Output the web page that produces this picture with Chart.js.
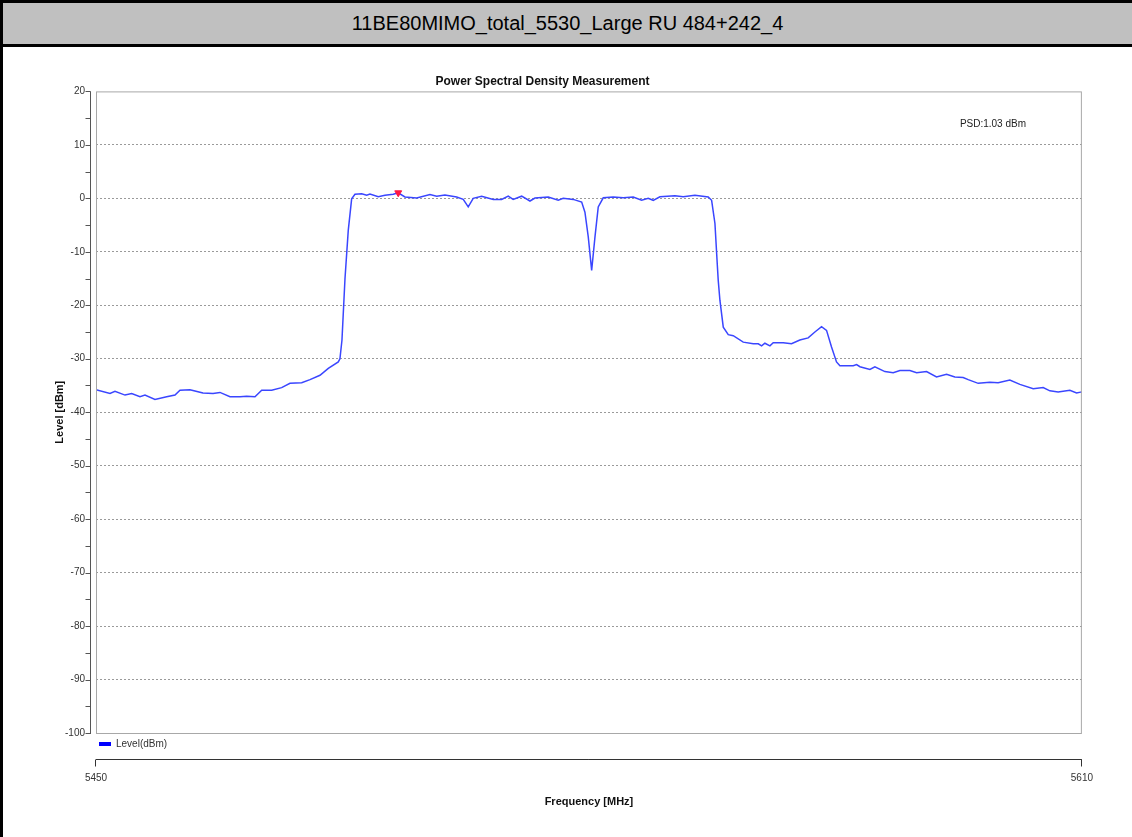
<!DOCTYPE html>
<html>
<head>
<meta charset="utf-8">
<script src="https://cdn.jsdelivr.net/npm/chart.js@4/dist/chart.umd.min.js"></script>
<style>
  body { margin: 0; background: #fff; }
  #page { width: 1129px; height: 834px; border-left: 3px solid #000; border-top: 3px solid #000; }
  #header {
    height: 41px; background: #c0c0c0; border-bottom: 3px solid #000;
    text-align: center; font: 20px "Liberation Sans", Arial, sans-serif; line-height: 41px; color: #000;
  }
  canvas { display: block; }
</style>
</head>
<body>
<div id="page">
  <div id="header">11BE80MIMO_total_5530_Large RU 484+242_4</div>
  <canvas id="psd" width="1129" height="790"></canvas>
</div>
<script>
const family = "'Liberation Sans Narrow', 'Liberation Sans', Arial, sans-serif";
const narrow = (size, bold) => ({ family, size, weight: bold ? "bold" : "normal" });

// trace (MHz / dBm)
const freqMHz = [
  5450.0, 5452.27, 5453.08, 5454.71, 5455.79, 5457.14, 5457.95, 5459.57, 5461.47, 5462.82,
  5463.63, 5465.25, 5467.36, 5468.99, 5470.12, 5471.74, 5473.37, 5474.45, 5475.80, 5476.89,
  5478.51, 5480.13, 5481.48, 5483.38, 5484.73, 5486.35, 5487.70, 5489.32, 5489.59, 5489.92,
  5490.41, 5490.94, 5491.49, 5492.03, 5493.12, 5493.93, 5494.46, 5495.81, 5496.90, 5498.24,
  5499.05, 5500.14, 5502.04, 5504.20, 5505.29, 5506.63, 5508.53, 5509.60, 5510.41, 5511.22,
  5512.59, 5514.47, 5515.83, 5516.90, 5517.70, 5519.08, 5520.43, 5521.24, 5523.40, 5525.02,
  5525.83, 5527.45, 5528.82, 5529.35, 5529.89, 5530.44, 5530.98, 5531.51, 5532.32, 5533.94,
  5535.57, 5537.19, 5538.55, 5539.62, 5540.43, 5541.52, 5543.96, 5545.30, 5547.20, 5549.36,
  5549.91, 5550.45, 5550.82, 5550.98, 5551.26, 5551.80, 5552.61, 5553.42, 5555.04, 5556.67,
  5557.48, 5558.02, 5558.56, 5559.37, 5559.91, 5561.53, 5562.88, 5564.23, 5565.58, 5566.67,
  5567.75, 5568.56, 5569.37, 5570.18, 5570.73, 5572.89, 5573.44, 5573.98, 5575.60, 5576.41,
  5578.03, 5579.38, 5580.47, 5582.09, 5583.18, 5584.79, 5586.41, 5588.04, 5589.39, 5590.73,
  5591.55, 5593.17, 5595.07, 5596.41, 5598.31, 5599.94, 5602.10, 5603.72, 5604.81, 5606.15,
  5608.05, 5609.14, 5610.0
];
const levelDbm = [
  -35.8, -36.5, -36.1, -36.8, -36.5, -37.1, -36.8, -37.6, -37.1, -36.8,
  -35.9, -35.8, -36.4, -36.5, -36.3, -37.1, -37.1, -37.0, -37.1, -35.9,
  -35.9, -35.4, -34.6, -34.5, -33.9, -33.1, -31.8, -30.6, -30.0, -26.5,
  -15.0, -6.0, -0.1, 0.75, 0.87, 0.6, 0.8, 0.3, 0.56, 0.75,
  1.03, 0.25, 0.06, 0.69, 0.4, 0.6, 0.25, -0.2, -1.6, 0.0,
  0.4, -0.2, -0.2, 0.4, -0.2, 0.4, -0.5, 0.06, 0.25, -0.37,
  0.0, -0.2, -0.7, -2.6, -7.2, -13.5, -7.2, -1.6, 0.1, 0.25,
  0.1, 0.25, -0.37, 0.0, -0.37, 0.3, 0.5, 0.3, 0.56, 0.25,
  -0.37, -4.7, -12.2, -15.3, -19.1, -24.1, -25.5, -25.7, -26.9, -27.2,
  -27.2, -27.6, -27.1, -27.6, -27.0, -27.0, -27.2, -26.5, -26.1, -25.0,
  -24.0, -24.7, -27.8, -30.6, -31.3, -31.3, -31.1, -31.5, -32.0, -31.5,
  -32.4, -32.6, -32.2, -32.2, -32.6, -32.4, -33.4, -32.9, -33.4, -33.5,
  -33.9, -34.6, -34.4, -34.5, -34.0, -34.8, -35.6, -35.4, -36.0, -36.2,
  -35.9, -36.4, -36.2
];
const markerFreq = [5499.05];
const markerLevel = [1.03];
const psdText = "PSD:1.03 dBm";
const xTicks = [5450, 5610];
const yMin = -100;
const yMax = 20;

const extras = {
  id: "extras",
  afterDraw(chart) {
    const { ctx, chartArea: a, scales: { x, y } } = chart;
    ctx.save();
    ctx.lineWidth = 1;

    // plot frame
    ctx.strokeStyle = "#a8a8a8";
    ctx.strokeRect(a.left + 0.5, a.top + 0.5, a.right - a.left - 1, a.bottom - a.top);

    // y axis line, set off to the left, with ticks every 5 dB
    const ax = a.left - 5.5;
    ctx.strokeStyle = "#555";
    ctx.beginPath();
    ctx.moveTo(ax, y.getPixelForValue(yMax));
    ctx.lineTo(ax, y.getPixelForValue(yMin) + 1);
    y.ticks.forEach((t) => {
      const py = Math.round(y.getPixelForValue(t.value)) + 0.5;
      ctx.moveTo(ax - 5, py);
      ctx.lineTo(ax, py);
    });
    ctx.stroke();

    // x axis line, below the legend row
    const ay = a.bottom + 26.5;
    ctx.strokeStyle = "#333";
    ctx.beginPath();
    ctx.moveTo(a.left, ay);
    ctx.lineTo(a.right, ay);
    x.ticks.forEach((t) => {
      const px = Math.round(x.getPixelForValue(t.value)) - 0.5;
      ctx.moveTo(px, ay);
      ctx.lineTo(px, ay + 7);
    });
    ctx.stroke();

    // legend
    const ds = chart.data.datasets[0];
    ctx.fillStyle = "#0000ff";
    ctx.fillRect(a.left + 3, a.bottom + 9, 12, 4);
    ctx.fillStyle = "#333";
    ctx.font = "10px " + family;
    ctx.textBaseline = "middle";
    ctx.textAlign = "left";
    ctx.fillText(ds.label, a.left + 20, a.bottom + 11);

    // PSD readout
    ctx.fillStyle = "#222";
    ctx.fillText(psdText, a.right - 122, a.top + 33);
    ctx.restore();
  },
};

new Chart(document.getElementById("psd"), {
  type: "scatter",
  data: {
    datasets: [
      {
        label: "Level(dBm)",
        data: freqMHz.map((f, i) => ({ x: f, y: levelDbm[i] })),
        showLine: true,
        borderColor: "#3a46ff",
        borderWidth: 1.5,
        pointRadius: 0,
        tension: 0,
        order: 1,
      },
      {
        label: "Marker",
        data: markerFreq.map((f, i) => ({ x: f, y: markerLevel[i] })),
        pointStyle: "triangle",
        rotation: 180,
        radius: 4,
        backgroundColor: "#ff1744",
        borderColor: "#ff1744",
        borderWidth: 1,
        order: 0,
      },
    ],
  },
  options: {
    animation: false,
    responsive: false,
    layout: { padding: { left: 0, right: 50, top: 0, bottom: 0 } },
    scales: {
      x: {
        type: "linear",
        min: 5450,
        max: 5610,
        afterBuildTicks: (scale) => {
          scale.ticks = xTicks.map((v) => ({ value: v }));
        },
        afterFit: (scale) => {
          scale.height = 104;
        },
        grid: { display: false, drawTicks: false },
        border: { display: false },
        ticks: {
          padding: 39,
          autoSkip: false,
          maxRotation: 0,
          color: "#333",
          font: narrow(10, false),
          callback: (v) => String(v),
        },
        title: {
          display: true,
          text: "Frequency [MHz]",
          color: "#111",
          font: narrow(11, true),
          padding: { top: 0, bottom: 28 },
        },
      },
      y: {
        min: yMin,
        max: yMax,
        afterFit: (scale) => {
          scale.width = 93;
        },
        grid: {
          drawTicks: false,
          color: (c) =>
            c.tick && c.tick.value % 10 === 0 && c.tick.value !== yMin && c.tick.value !== yMax
              ? "#9a9a9a"
              : "rgba(0,0,0,0)",
          lineWidth: 1,
        },
        border: { display: false, dash: [2, 2] },
        ticks: {
          stepSize: 5,
          autoSkip: false,
          padding: 11,
          color: "#333",
          font: narrow(10, false),
          callback: (v) => (v % 10 === 0 ? String(v) : ""),
        },
        title: {
          display: true,
          text: "Level [dBm]",
          color: "#111",
          font: narrow(11, true),
          padding: { top: 50, bottom: 0 },
        },
      },
    },
    plugins: {
      legend: { display: false },
      tooltip: { enabled: false },
      title: {
        display: true,
        text: "Power Spectral Density Measurement",
        color: "#111",
        font: narrow(12, true),
        padding: { top: 27, bottom: 3 },
      },
    },
  },
  plugins: [extras],
});
</script>
</body>
</html>
